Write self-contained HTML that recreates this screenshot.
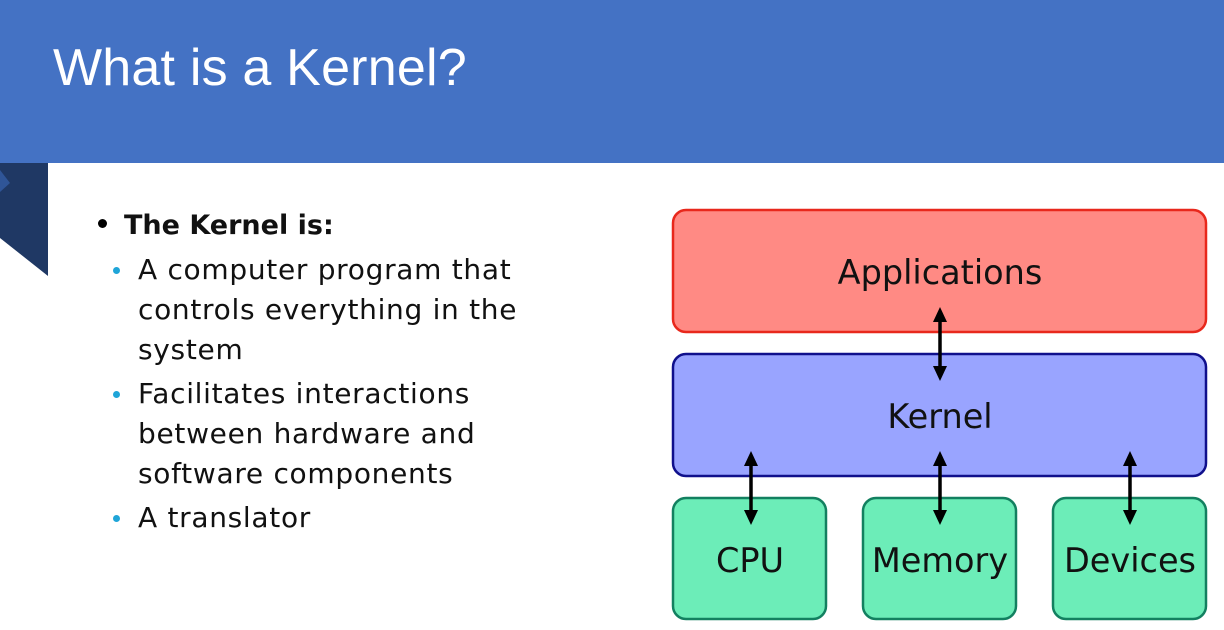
<!DOCTYPE html>
<html><head><style>
body{margin:0;width:1224px;height:630px;overflow:hidden;background:#fff;font-family:"Liberation Sans",sans-serif;position:relative}
.hdr{position:absolute;left:0;top:0;width:1224px;height:163px;background:#4472C4}
.t{position:absolute;left:53px;top:38px;font-size:52px;color:#fff;letter-spacing:0.2px}
.b{position:absolute;font-family:"DejaVu Sans",sans-serif;font-size:28px;color:#111;line-height:40px;letter-spacing:0.7px}
.dot{position:absolute;width:7px;height:7px;border-radius:50%}
</style></head><body>
<div class="hdr"></div>
<div class="t">What is a Kernel?</div>
<svg style="position:absolute;left:0;top:0" width="1224" height="630">
<polygon points="0,163 48,163 48,276 0,238" fill="#1F3864"/>
<polygon points="0,170 10,183 0,192" fill="#2F5597"/>
<rect x="673" y="210" width="533" height="122" rx="13" fill="#FF8A84" stroke="#E8281C" stroke-width="2.5"/>
<rect x="673" y="354" width="533" height="122" rx="13" fill="#99A4FF" stroke="#10108C" stroke-width="2.5"/>
<rect x="673" y="498" width="153" height="121" rx="13" fill="#6CEDB8" stroke="#138060" stroke-width="2.5"/>
<rect x="863" y="498" width="153" height="121" rx="13" fill="#6CEDB8" stroke="#138060" stroke-width="2.5"/>
<rect x="1053" y="498" width="153" height="121" rx="13" fill="#6CEDB8" stroke="#138060" stroke-width="2.5"/>
<g font-family="DejaVu Sans,sans-serif" font-size="33.5" fill="#111" text-anchor="middle">
<text x="940" y="284">Applications</text>
<text x="940" y="428">Kernel</text>
<text x="750" y="572">CPU</text>
<text x="940" y="572">Memory</text>
<text x="1130" y="572">Devices</text>
</g>
<g stroke="#000" stroke-width="3.5" fill="#000">
<line x1="940" y1="318" x2="940" y2="370"/><polygon points="933,322 947,322 940,307" stroke="none"/><polygon points="933,366 947,366 940,381" stroke="none"/>
<line x1="751" y1="462" x2="751" y2="514"/><polygon points="744,466 758,466 751,451" stroke="none"/><polygon points="744,510 758,510 751,525" stroke="none"/>
<line x1="940" y1="462" x2="940" y2="514"/><polygon points="933,466 947,466 940,451" stroke="none"/><polygon points="933,510 947,510 940,525" stroke="none"/>
<line x1="1130" y1="462" x2="1130" y2="514"/><polygon points="1123,466 1137,466 1130,451" stroke="none"/><polygon points="1123,510 1137,510 1130,525" stroke="none"/>
</g>
</svg>
<div class="dot" style="left:98px;top:219px;width:9px;height:9px;background:#000"></div>
<div class="b" style="left:124px;top:206px;font-weight:bold;letter-spacing:0;font-size:27px">The Kernel is:</div>
<div class="dot" style="left:113px;top:267px;background:#1FA5D8"></div>
<div class="b" style="left:138px;top:250px">A computer program that<br>controls everything in the<br>system</div>
<div class="dot" style="left:113px;top:391px;background:#1FA5D8"></div>
<div class="b" style="left:138px;top:374px">Facilitates interactions<br>between hardware and<br>software components</div>
<div class="dot" style="left:113px;top:515px;background:#1FA5D8"></div>
<div class="b" style="left:138px;top:498px">A translator</div>
</body></html>
